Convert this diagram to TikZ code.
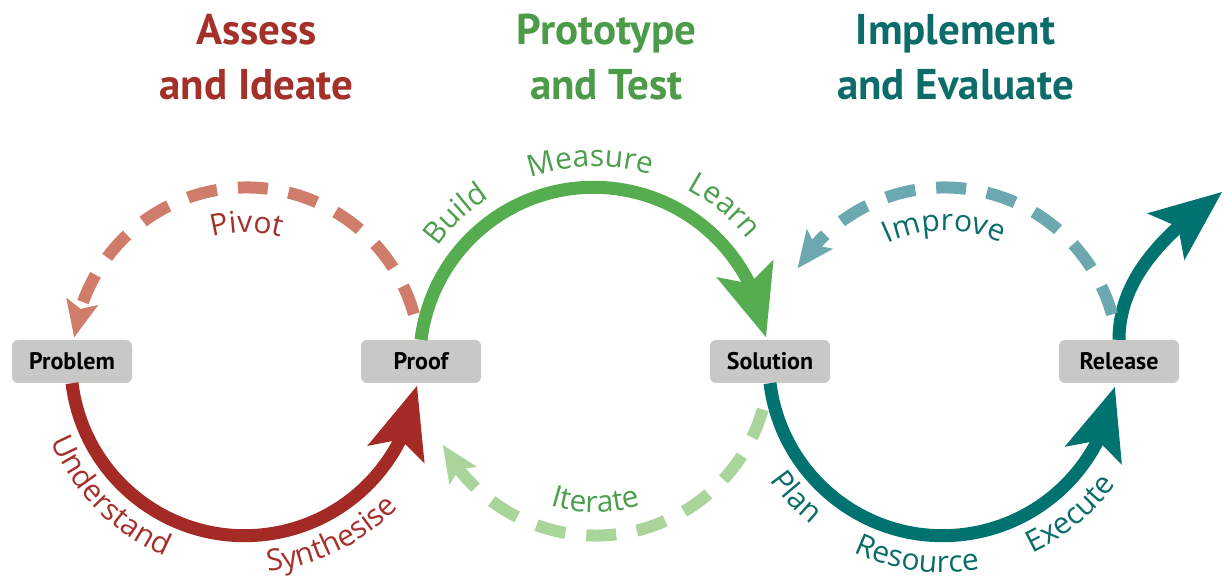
\documentclass[tikz,border=0pt]{standalone}
\usepackage{fontspec}
\setmainfont{Open Sans}
\newfontfamily\ptsans{PT Sans}
\usetikzlibrary{arrows.meta,bending,decorations.text,calc}
\definecolor{redS}{HTML}{A32A25}
\definecolor{redT}{HTML}{A4302A}
\definecolor{pinkL}{HTML}{D07C6B}
\definecolor{greenS}{HTML}{55AD50}
\definecolor{greenT}{HTML}{4A9E4C}
\definecolor{greenTT}{HTML}{4C9B48}
\definecolor{greenL}{HTML}{A9D49A}
\definecolor{tealS}{HTML}{007270}
\definecolor{tealT}{HTML}{0B6C6A}
\definecolor{tealL}{HTML}{6BA8AF}
\definecolor{boxgray}{HTML}{C8C8C7}
\newcommand\lblfont{\fontsize{30}{36}\selectfont}
\begin{document}
\begin{tikzpicture}[x=1pt,y=1pt]
\useasboundingbox (0,0) rectangle (1224,578);
\tikzset{
  box/.style={fill=boxgray, rounded corners=6pt, minimum width=120pt, minimum height=43pt, inner sep=0pt, font=\ptsans\bfseries\fontsize{24}{28}\selectfont},
  ttl/.style={font=\ptsans\bfseries\fontsize{43}{50}\selectfont, anchor=base, inner sep=0pt},
  solidarc/.style={line width=13pt},
  dasharc/.style={line width=12pt, dash pattern=on 30pt off 21pt},
  bighead/.style={-{Stealth[length=72pt,width=60pt,inset=16pt,line width=0pt]}},
  smallhead/.style={-{Stealth[length=37pt,width=33pt,inset=8pt,line width=0pt]}},
  arclbl/.style={decorate, decoration={text along path, text align=center, text color=#1}},
}
\coordinate (c1) at (246.5,216.5);
\coordinate (c2) at (595.5,216.5);
\coordinate (c3) at (944.5,216.5);
\coordinate (relTip) at (1222,386);

% titles
\node[ttl, text=redT] (t1a) at (256.5,533) {Assess};
\node[ttl, text=redT] (t1b) at (256.5,478) {and Ideate};
\node[ttl, text=greenTT] (t2a) at (606.5,533) {Prototype};
\node[ttl, text=greenTT] (t2b) at (606.5,478) {and Test};
\node[ttl, text=tealT] (t3a) at (955.5,533) {Implement};
\node[ttl, text=tealT] (t3b) at (955.5,478) {and Evaluate};

% boxes
\node[box] (Problem) at (72,216.5) {Problem};
\node[box] (Proof) at (421,216.5) {Proof};
\node[box] (Solution) at (770,216.5) {Solution};
\node[box] (Release) at (1119,216.5) {Release};

% solid arcs
\draw[solidarc, redS, bighead] (Problem.south) arc[start angle=187.1, end angle=352, radius=174pt];
\draw[solidarc, greenS, bighead] (Proof.north) arc[start angle=172.9, end angle=8, radius=174pt];
\draw[solidarc, tealS, bighead] (Solution.south) arc[start angle=187.1, end angle=351.6, radius=174pt];
\draw[solidarc, tealS, bighead] (Release.north) .. controls (1119,300) and (1165,345) .. (relTip);

% dashed arcs
\draw[dasharc, pinkL, smallhead] ($(c1)+(15.8:174pt)$) arc[start angle=15.8, end angle=172, radius=174pt];
\draw[dasharc, greenL, smallhead] ($(c2)+(-16:174pt)$) arc[start angle=-16, end angle=-151.3, radius=174pt];
\draw[dasharc, tealL, smallhead] ($(c3)+(15.7:174pt)$) arc[start angle=15.7, end angle=147.6, radius=174pt];

% curved labels
\path[arclbl=redT, decoration={text={|\lblfont|Pivot}}] ($(c1)+(130:129pt)$) arc[start angle=130, end angle=50, radius=129pt];
\path[arclbl=greenT, decoration={text={|\lblfont|Build}}] ($(c2)+(173.5:195pt)$) arc[start angle=173.5, end angle=93.5, radius=195pt];
\path[arclbl=greenT, decoration={text={|\lblfont|Measure}}] ($(c2)+(131.5:195pt)$) arc[start angle=131.5, end angle=51.5, radius=195pt];
\path[arclbl=greenT, decoration={text={|\lblfont|Learn}}] ($(c2)+(90.4:195pt)$) arc[start angle=90.4, end angle=10.4, radius=195pt];
\path[arclbl=tealT, decoration={text={|\lblfont|Improve}}] ($(c3)+(130:131pt)$) arc[start angle=130, end angle=50, radius=131pt];
\path[arclbl=redT, decoration={text={|\lblfont|Understand}}] ($(c1)+(179.7:211pt)$) arc[start angle=179.7, end angle=269.7, radius=211pt];
\path[arclbl=redT, decoration={text={|\lblfont|Synthesise}}] ($(c1)+(251:211pt)$) arc[start angle=251, end angle=341, radius=211pt];
\path[arclbl=greenT, decoration={text={|\lblfont|Iterate}}] ($(c2)+(230:151pt)$) arc[start angle=230, end angle=310, radius=151pt];
\path[arclbl=tealT, decoration={text={|\lblfont|Plan}}] ($(c3)+(182.5:211pt)$) arc[start angle=182.5, end angle=262.5, radius=211pt];
\path[arclbl=tealT, decoration={text={|\lblfont|Resource}}] ($(c3)+(217:211pt)$) arc[start angle=217, end angle=307, radius=211pt];
\path[arclbl=tealT, decoration={text={|\lblfont|Execute}}] ($(c3)+(269.5:211pt)$) arc[start angle=269.5, end angle=349.5, radius=211pt];
\end{tikzpicture}
\end{document}
